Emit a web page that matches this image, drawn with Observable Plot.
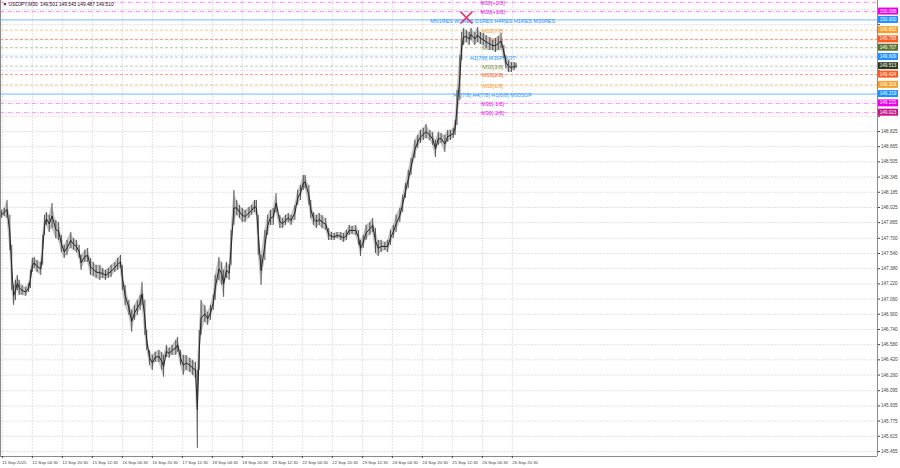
<!DOCTYPE html>
<html><head><meta charset="utf-8">
<script src="https://cdn.jsdelivr.net/npm/d3@7"></script>
<script src="https://cdn.jsdelivr.net/npm/@observablehq/plot@0.6"></script>
<style>html,body{margin:0;padding:0;background:#fff}svg{display:block}</style>
</head><body><div id="chart"></div>
<script>
// ---- data (USDJPY M30) ----
const titleText = "\u25BC USDJPY,M30  149.501 149.543 149.487 149.510";
const bars = [1,4,7,10,12,14,16,18,20,23,27,30,32,34,36,39,43,45,47,49,52,55,59,62,65,68,71,75,78,81,84,86,90,93,96,99,102,106,109,112,115,118,122,125,128,130,133,137,140,143,146,149,151,154,156,159,162,165,169,172,174,177,180,183,187,189,192,195,198,202,205,208,210,212,214,218,221,224,227,229,233,236,238,241,244,246,249,252,255,258,261,265,268,271,273,275,278,282,285,288,291,294,298,301,304,307,310,314,317,320,323,325,329,331,334,337,340,343,347,350,353,356,359,363,366,369,372,375,379,382,384,387,390,394,397,400,403,406,410,413,416,419,422,426,429,432,435,438,442,445,448,451,454,458,461,464,467,470,474,477,480,483,485,487,490,492,494,497,500,502,506,509,512,515,518,522,525,528,531,534,537,539,542,545,548,550];
const highs = [147.993,148.015,148.099,147.941,147.625,147.204,147.257,147.309,147.257,147.204,
147.183,147.225,147.362,147.488,147.499,147.467,147.446,147.730,147.941,147.972,
147.941,148.067,147.888,147.867,147.730,147.625,147.678,147.762,147.699,147.678,
147.625,147.520,147.572,147.593,147.488,147.446,147.415,147.415,147.383,147.362,
147.383,147.415,147.446,147.488,147.520,147.415,147.204,147.046,146.941,146.993,
147.046,147.099,147.236,147.046,146.730,146.520,146.467,146.499,146.520,146.499,
146.467,146.572,146.541,146.572,146.625,146.657,146.520,146.467,146.467,146.436,
146.415,146.393,146.309,146.730,147.046,146.993,146.920,146.993,147.099,147.309,
147.499,147.446,147.362,147.446,147.415,147.783,148.204,148.099,148.046,148.015,
147.993,148.025,148.046,148.099,148.099,147.941,147.520,147.783,147.941,147.993,
148.015,148.172,147.941,147.909,147.941,147.962,147.941,148.046,148.204,148.257,
148.362,148.362,148.257,148.099,147.972,147.941,147.962,147.941,147.909,147.804,
147.762,147.751,147.762,147.762,147.751,147.783,147.836,147.825,147.836,147.783,
147.678,147.730,147.836,147.867,147.909,147.804,147.678,147.678,147.657,147.678,
147.783,147.836,147.941,148.015,148.151,148.278,148.415,148.541,148.730,148.783,
148.836,148.857,148.899,148.836,148.815,148.730,148.815,148.804,148.783,148.836,
148.836,148.857,148.941,149.257,149.625,149.867,149.909,149.888,149.867,149.909,
149.867,149.920,149.867,149.857,149.836,149.815,149.783,149.804,149.825,149.857,
149.730,149.625,149.572,149.551,149.551,149.543];
const lows = [147.909,147.930,147.909,147.572,147.151,146.993,147.046,147.151,147.099,147.099,
147.088,147.130,147.172,147.341,147.383,147.341,147.309,147.415,147.730,147.836,
147.762,147.804,147.699,147.678,147.551,147.488,147.520,147.593,147.572,147.551,
147.488,147.362,147.446,147.446,147.309,147.299,147.278,147.257,147.278,147.257,
147.278,147.288,147.341,147.362,147.383,147.151,146.993,146.888,146.709,146.836,
146.888,146.941,146.993,146.678,146.520,146.362,146.309,146.393,146.393,146.309,
146.236,146.446,146.436,146.467,146.467,146.499,146.362,146.257,146.309,146.288,
146.257,146.225,145.488,146.309,146.678,146.815,146.783,146.836,146.941,147.046,
147.257,147.204,147.078,147.278,147.257,147.415,147.836,147.941,147.909,147.867,
147.867,147.909,147.941,147.972,147.941,147.520,147.204,147.467,147.730,147.836,
147.836,147.972,147.804,147.804,147.836,147.867,147.836,147.888,148.046,148.099,
148.204,148.225,148.046,147.909,147.836,147.804,147.836,147.804,147.783,147.678,
147.678,147.678,147.699,147.678,147.657,147.678,147.730,147.741,147.730,147.625,
147.509,147.593,147.678,147.730,147.762,147.541,147.509,147.551,147.572,147.551,
147.625,147.699,147.762,147.867,147.972,148.120,148.225,148.362,148.541,148.646,
148.699,148.730,148.751,148.730,148.678,148.551,148.678,148.699,148.604,148.709,
148.730,148.751,148.783,148.888,149.151,149.572,149.730,149.762,149.730,149.783,
149.730,149.762,149.741,149.730,149.699,149.678,149.678,149.657,149.678,149.699,
149.593,149.488,149.446,149.446,149.467,149.487];

const levelNames = ["M30[+2/8]","M30[+1/8]","MN1RES W1RES D1RES H4RES H1RES M30RES","M30[7/8]","M30[6/8]","M30[5/8]","H1[7/8] M30PIVOT","M30[3/8]","M30[2/8]","M30[1/8]","H1[7/8] H4[7/8] H1[6/8] M30SUP","M30[-1/8]","M30[-2/8]"];
const levelPrices = [150.185,150.088,150.000,149.892,149.795,149.707,149.609,149.513,149.424,149.316,149.219,149.121,149.023];
const levelKinds = ["ext","ext","res","o","r","g","piv","d","r","o","res","ext","ext2"];

const priceTicks = [150.110,149.950,149.790,149.630,149.465,149.305,149.145,148.985,148.825,148.665,148.505,148.345,148.185,148.025,147.865,147.700,147.540,147.380,147.220,147.060,146.900,146.740,146.580,146.420,146.260,146.095,145.935,145.775,145.615,145.455];
const timeTickBars = [2,34,66,98,130,162,194,226,258,290,322,354,386,418,450,482,514,546];
const timeTickLabels = ["11 Sep 2025","12 Sep 04:30","12 Sep 20:30","15 Sep 12:30","16 Sep 04:30","16 Sep 20:30","17 Sep 12:30","18 Sep 04:30","18 Sep 20:30","19 Sep 12:30","22 Sep 04:30","22 Sep 20:30","23 Sep 12:30","24 Sep 04:30","24 Sep 20:30","25 Sep 12:30","26 Sep 04:30","26 Sep 20:30"];
const signalBars = [497];
const signalPrices = [150.025];

// ---- styles ----
const pal = {
  ext:  {line:"#ff70ff", text:"#e010e0", box:"#ee00ee"},
  ext2: {line:"#ff70ff", text:"#e010e0", box:"#c8108c"},
  res:  {line:"#62b2ff", text:"#2a94ff", box:"#1e8fff"},
  o:    {line:"#ffbb66", text:"#f59a2a", box:"#f5a02a"},
  r:    {line:"#ff8050", text:"#ff5a1e", box:"#ff5a1e"},
  g:    {line:"#a8b088", text:"#6f8f2f", box:"#5a7030"},
  piv:  {line:"#7cbcff", text:"#2a94ff", box:"#1e8fff"},
  d:    {line:"#c0b8a4", text:"#6f8f2f", box:"#2e3a22"}
};
const FONT = "'Liberation Sans', Arial, sans-serif";

const rows = bars.map((b,i)=>({bar:b, hi:highs[i], lo:lows[i], mid:(highs[i]+lows[i])/2}));
const levels = levelPrices.map((p,i)=>({p, name:levelNames[i], kind:levelKinds[i]}));
const signal = signalBars.map((b,i)=>({bar:b, price:signalPrices[i]}));
const labelMap = new Map(timeTickBars.map((b,i)=>[b, timeTickLabels[i]]));
const lastBar = bars[bars.length-1];
const labelBar = lastBar - 25;
const xMax = 935.5, yMin = 145.402, yMax = 150.2045;
const pxPerUnit = 456 / (yMax - yMin);
// tick labels hidden behind the coloured price boxes
const covered = v => levels.slice(1).some(l => Math.abs(l.p - v) * pxPerUnit < 5);

const W = 900, H = 468, MR = 23, MB = 12;
const chart = Plot.plot({
  width: W, height: H,
  marginLeft: 0, marginRight: MR, marginTop: 0, marginBottom: MB,
  x: {domain: [0, xMax], axis: null},
  y: {domain: [yMin, yMax], axis: null},
  color: {type: "identity"},
  style: {fontFamily: FONT, fontSize: "5px", background: "#fff", overflow: "visible"},
  marks: [
    Plot.gridY(priceTicks, {stroke: "#e3e3e3", strokeOpacity: 1, strokeDasharray: "2,1"}),
    Plot.gridX(timeTickBars, {stroke: "#e3e3e3", strokeOpacity: 1, strokeDasharray: "2,1"}),
    Plot.ruleY(levels.filter(d=>d.kind==="res"), {y: "p", stroke: d=>pal[d.kind].line, strokeWidth: 0.9}),
    Plot.ruleY(levels.filter(d=>d.kind.startsWith("ext")), {y: "p", stroke: d=>pal[d.kind].line, strokeWidth: 0.8, strokeDasharray: "4,1.5,1,1.5"}),
    Plot.ruleY(levels.filter(d=>!d.kind.startsWith("ext") && d.kind!=="res"), {y: "p", stroke: d=>pal[d.kind].line, strokeWidth: 0.8, strokeDasharray: "3,2"}),
    Plot.text(levels, {x: labelBar, y: "p", text: "name", fill: d=>pal[d.kind].text, fontSize: 5.4, textAnchor: "middle", dy: 1}),
    Plot.areaY(rows, {x: "bar", y1: "lo", y2: "hi", fill: "#b8b8b8", fillOpacity: 0.85}),
    Plot.ruleX(rows, {x: "bar", y1: "lo", y2: "hi", stroke: "#4a4a4a", strokeWidth: 0.9}),
    Plot.lineY(rows, {x: "bar", y: "mid", stroke: "#262626", strokeWidth: 1}),
    Plot.dot(signal, {x: "bar", y: "price", symbol: "times", r: 5.5, stroke: "#e8336e", strokeWidth: 1.6}),
    Plot.ruleX([0, xMax], {stroke: "#8a8a8a"}),
    Plot.ruleY([yMin], {stroke: "#8a8a8a"}),
    Plot.axisY(priceTicks, {anchor: "right", label: null, tickSize: 2, tickPadding: 1.5, tickFormat: d=>covered(d) ? "" : d.toFixed(3), fontSize: 4.6, color: "#444"}),
    Plot.axisX(timeTickBars, {anchor: "bottom", label: null, tickSize: 2, tickPadding: 2, tickFormat: d=>labelMap.get(d), textAnchor: "start", fontSize: 4.3, color: "#444"}),
    Plot.text([titleText], {text: d=>d, frameAnchor: "top-left", dx: 2, dy: 2, fontSize: 4.8, fill: "#111", textAnchor: "start"})
  ]
});

// price boxes on the right axis, positioned with the plot's own y scale
const ys = chart.scale("y");
const g = d3.select(chart).append("g");
const bx = W - MR + 1;
levels.slice(1).forEach(l => {
  const y = ys.apply(l.p);
  g.append("rect").attr("x", bx).attr("y", y - 3.5).attr("width", 20).attr("height", 7).attr("fill", pal[l.kind].box);
  g.append("text").attr("x", bx + 10).attr("y", y).attr("dy", "0.35em").attr("text-anchor", "middle")
    .attr("fill", "#fff").attr("font-size", 4.6).attr("font-family", FONT).text(l.p.toFixed(3));
});
document.getElementById("chart").appendChild(chart);
</script>
</body></html>
